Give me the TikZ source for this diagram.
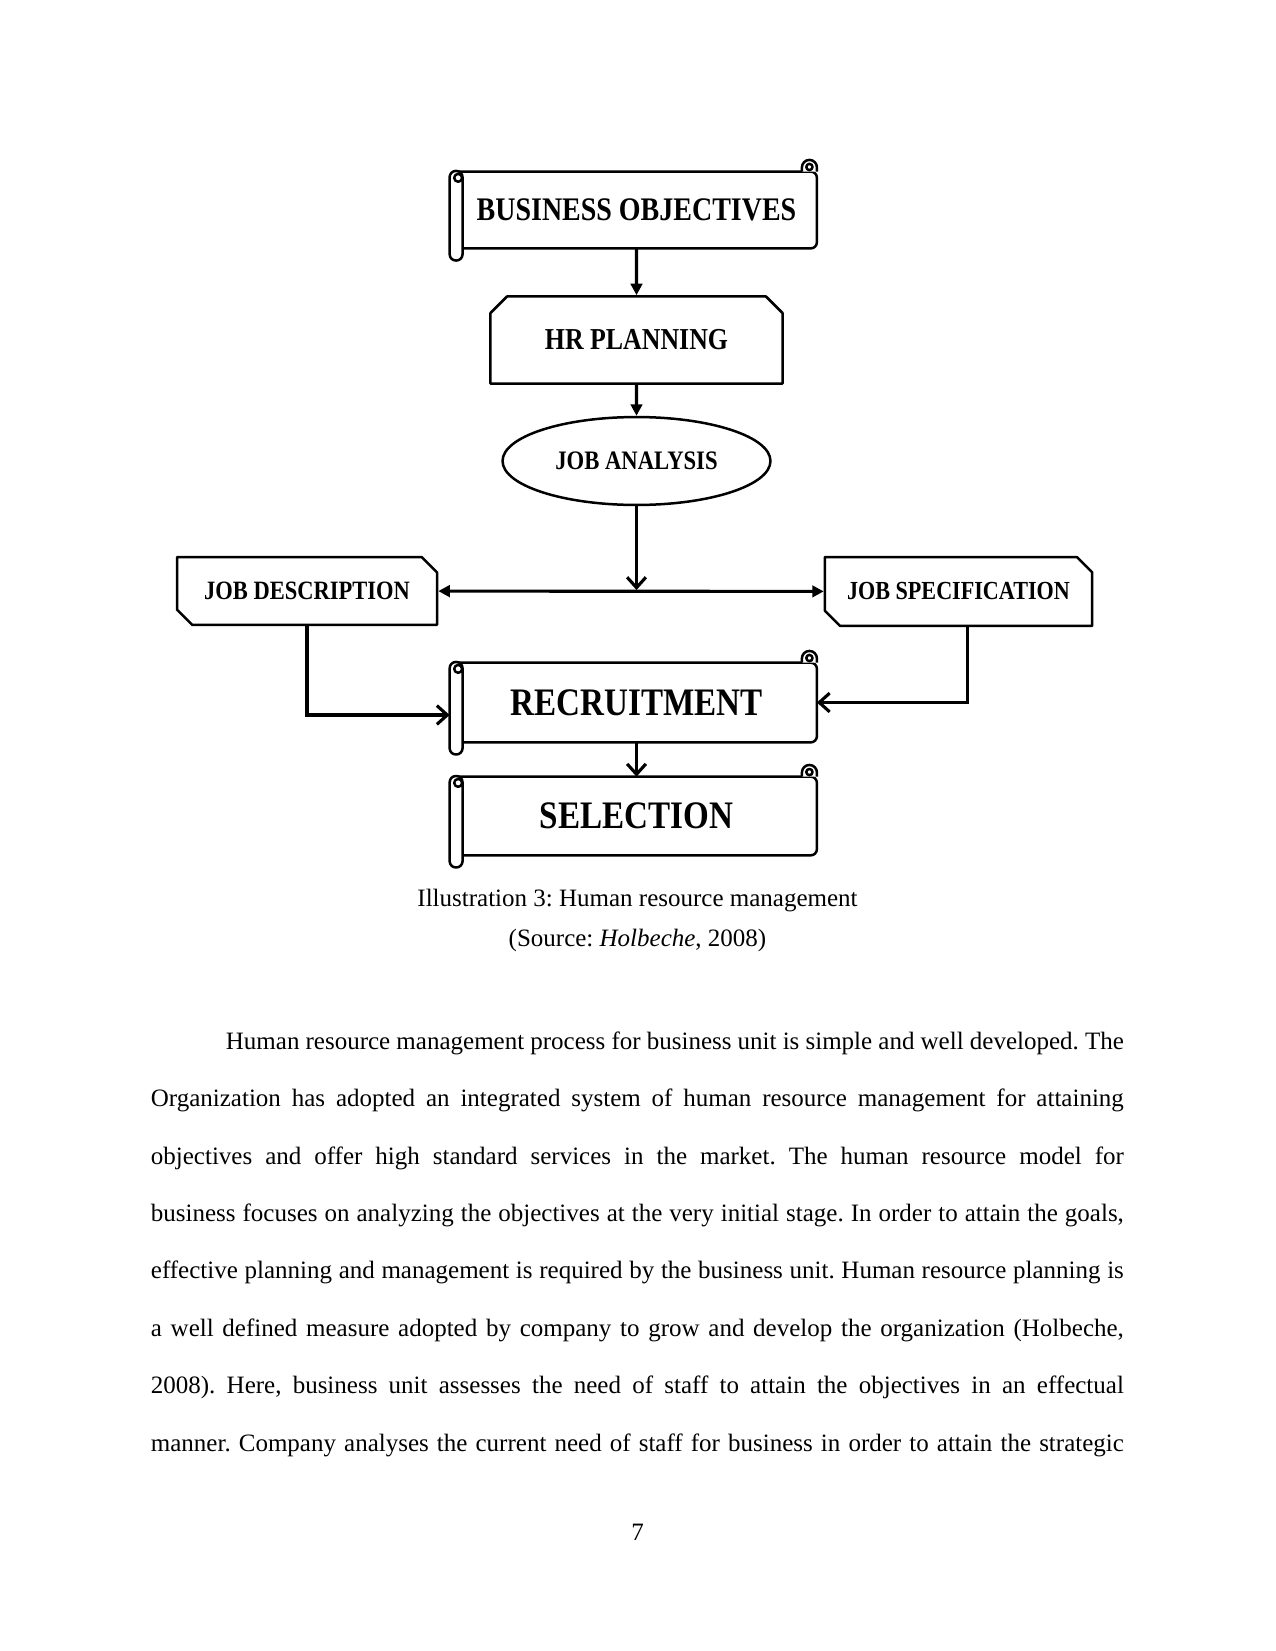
\documentclass[tikz,border=0pt]{standalone}
\usepackage{fontspec}
\setmainfont{Liberation Serif}
\newfontfamily\boxfont[FakeStretch=0.85]{Liberation Serif}
\usetikzlibrary{positioning, shapes.geometric, shapes.misc, arrows.meta}
\frenchspacing

% scroll outline round a named node
\newcommand{\scrollframe}[1]{%
  \draw[boxline, rounded corners=3pt] (#1.north west) -- (#1.north east) -- (#1.south east) -- (#1.south west);
  \draw[boxline, fill=white, rounded corners=3pt] ([xshift=-3.1pt,yshift=0.3pt]#1.north west) rectangle ([xshift=3.1pt,yshift=-5.8pt]#1.south west);
  \draw[boxline] ([xshift=1pt,yshift=-3pt]#1.north west) circle (1.9pt);
  \draw[boxline, fill=white] (#1.north east) -- ++(0,2pt) arc[start angle=0, end angle=180, radius=3.6pt] -- ++(0,-2pt);
  \draw[boxline] ([xshift=-3.6pt,yshift=2.2pt]#1.north east) circle (1.5pt);
}

\begin{document}
\begin{tikzpicture}[x=0.48pt, y=-0.48pt,
    boxline/.style={line width=1.2pt, line join=round},
    scroll/.style={minimum width=172.8pt, inner sep=0pt, font={\boxfont\bfseries\fontsize{18.7pt}{20pt}\selectfont}},
    cutbox/.style={draw, boxline, chamfered rectangle, chamfered rectangle xsep=6.5pt, inner sep=0pt, font={\boxfont\bfseries\fontsize{12.7pt}{14pt}\selectfont}},
    link/.style={line width=1.5pt},
    tri/.style={link, -{Triangle[length=5.5pt, width=5.5pt]}},
    barb/.style={link, -{Straight Barb[length=5pt, width=9pt]}},
    body/.style={inner sep=0pt, font={\fontsize{12pt}{14pt}\selectfont}},
]
\path[use as bounding box, fill=white] (0,0) rectangle (1275,1651);

% ── Boxes ──
\node[scroll, minimum height=36.5pt, font={\boxfont\bfseries\fontsize{15.8pt}{17pt}\selectfont}] (bo) at (636.5,210) {BUSINESS OBJECTIVES};
\scrollframe{bo}
\node[cutbox, chamfered rectangle corners={north west,north east}, minimum width=140.2pt, minimum height=41.8pt, font={\boxfont\bfseries\fontsize{14.6pt}{16pt}\selectfont}] (hr) at (636.5,340) {HR PLANNING};
\node[ellipse, draw, boxline, inner sep=0pt, minimum width=128.6pt, minimum height=42.2pt, font={\boxfont\bfseries\fontsize{12.8pt}{14pt}\selectfont}] (ja) at (636.5,461) {JOB ANALYSIS};
\node[cutbox, chamfered rectangle corners={north east,south west}, minimum width=124.8pt, minimum height=32.6pt] (jd) at (307,591) {JOB DESCRIPTION};
\node[cutbox, chamfered rectangle corners={north east,south west}, minimum width=128.2pt, minimum height=33.1pt, font={\boxfont\bfseries\fontsize{12.5pt}{14pt}\selectfont}] (js) at (958.5,591.5) {JOB SPECIFICATION};
\node[scroll, minimum height=37.9pt] (rec) at (636.5,702.5) {RECRUITMENT};
\scrollframe{rec}
\node[scroll, minimum height=37.4pt] (sel) at (636.5,816) {SELECTION};
\scrollframe{sel}

% ── Connectors ──
\coordinate (mid) at (636.5,590);
\draw[tri] (bo) -- (hr);
\draw[tri] (hr) -- (ja);
\draw[barb] (ja) -- (mid);
\draw[link, {Triangle[length=5.5pt, width=5.5pt]}-{Triangle[length=5.5pt, width=5.5pt]}] (jd) -- (js);
\draw[barb] (jd.south) |- ([xshift=-3.1pt,yshift=-6pt]rec.west);
\draw[barb] ([xshift=4.5pt]js.south) |- (rec.east);
\draw[barb] (rec) -- (sel);

% ── Caption ──
\node[body, anchor=base] (cap) at (637.5,906) {Illustration 3: Human resource management};
\node[body, anchor=base] (src) at (637.5,946) {(Source: \textit{Holbeche}, 2008)};

% ── Text ──
\node[body, anchor=base west, text width=467pt, align=justify, font={\fontsize{12pt}{27.55pt}\selectfont}] (para) at (150.5,1049.3) {\parfillskip=0pt\tolerance=10000\hyphenpenalty=10000\hspace*{36pt}Human resource management process for business unit is simple and well developed. The\linebreak
Organization has adopted an integrated system of human resource management for attaining\linebreak
objectives and offer high standard services in the market. The human resource model for\linebreak
business focuses on analyzing the objectives at the very initial stage. In order to attain the goals,\linebreak
effective planning and management is required by the business unit. Human resource planning is\linebreak
a well defined measure adopted by company to grow and develop the organization (Holbeche,\linebreak
2008). Here, business unit assesses the need of staff to attain the objectives in an effectual\linebreak
manner. Company analyses the current need of staff for business in order to attain the strategic\par};
\node[body, anchor=base] (pg) at (637.5,1540) {7};
\end{tikzpicture}
\end{document}
